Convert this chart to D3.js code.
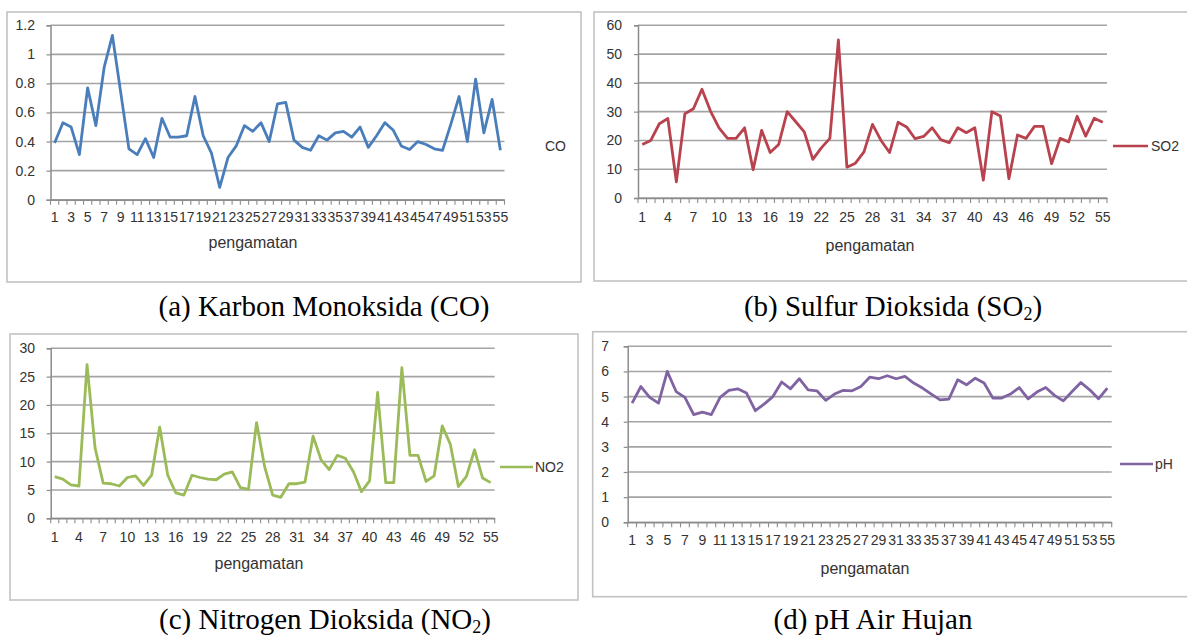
<!DOCTYPE html>
<html>
<head>
<meta charset="utf-8">
<script src="https://cdn.jsdelivr.net/npm/d3@7/dist/d3.min.js"></script>
<style>
  body { margin: 0; background: #fff; }
  svg { display: block; }
  text { font-family: 'Liberation Sans', Arial, sans-serif; fill: #333; }
  .caption { font-family: 'Liberation Serif', 'Times New Roman', serif; fill: #000; font-size: 29px; }
</style>
</head>
<body>
<svg id="chart" width="1187" height="637"></svg>
<script>
// observation number (category axis)
const pengamatan = [1, 2, 3, 4, 5, 6, 7, 8, 9, 10, 11, 12, 13, 14, 15, 16, 17, 18, 19, 20,
  21, 22, 23, 24, 25, 26, 27, 28, 29, 30, 31, 32, 33, 34, 35, 36, 37, 38, 39, 40,
  41, 42, 43, 44, 45, 46, 47, 48, 49, 50, 51, 52, 53, 54, 55]

// series
const co = [0.39, 0.53, 0.50, 0.31, 0.77, 0.51, 0.91, 1.13, 0.74, 0.35,
  0.31, 0.42, 0.29, 0.56, 0.43, 0.43, 0.44, 0.71, 0.44, 0.32,
  0.085, 0.29, 0.37, 0.51, 0.47, 0.53, 0.40, 0.66, 0.67, 0.41,
  0.36, 0.34, 0.44, 0.41, 0.46, 0.47, 0.43, 0.50, 0.36, 0.44,
  0.53, 0.48, 0.37, 0.345, 0.40, 0.38, 0.35, 0.34, 0.52, 0.71,
  0.40, 0.83, 0.46, 0.69, 0.34]
const so2 = [18.6, 20, 25.8, 27.6, 5.6, 29.3, 31, 37.8, 30.2, 24.4,
  20.7, 20.7, 24.4, 9.8, 23.5, 15.8, 18.6, 30, 26.5, 23,
  13.4, 17.4, 20.7, 54.9, 10.7, 12.1, 16, 25.6, 20, 15.8,
  26.3, 24.7, 20.6, 21.4, 24.4, 20.3, 19.2, 24.4, 22.7, 24.4,
  6.2, 30, 28.5, 6.7, 21.9, 20.7, 24.9, 24.9, 11.9, 20.7,
  19.5, 28.4, 21.5, 27.7, 26.3]
const no2 = [7.35, 6.9, 5.9, 5.7, 27.1, 12.4, 6.2, 6.1, 5.7, 7.2,
  7.5, 5.8, 7.6, 16.1, 7.6, 4.5, 4.1, 7.6, 7.2, 6.9,
  6.8, 7.8, 8.2, 5.4, 5.1, 16.9, 9.1, 4.1, 3.7, 6.1,
  6.1, 6.4, 14.5, 10.3, 8.6, 11.1, 10.6, 8.2, 4.7, 6.6,
  22.2, 6.3, 6.3, 26.6, 11.1, 11.1, 6.5, 7.5, 16.3, 13.1,
  5.6, 7.4, 12.1, 7.1, 6.3]
const ph = [4.74, 5.40, 4.97, 4.74, 6.0, 5.2, 4.97, 4.28, 4.38, 4.28,
  4.97, 5.25, 5.31, 5.14, 4.44, 4.70, 5.0, 5.58, 5.31, 5.71,
  5.27, 5.23, 4.85, 5.10, 5.25, 5.23, 5.40, 5.77, 5.71, 5.83,
  5.71, 5.80, 5.54, 5.34, 5.10, 4.87, 4.90, 5.67, 5.47, 5.73,
  5.54, 4.94, 4.94, 5.10, 5.36, 4.91, 5.18, 5.36, 5.05, 4.83,
  5.2, 5.56, 5.27, 4.91, 5.34]

// value axis ticks
const yTicksCO = [0, 0.2, 0.4, 0.6, 0.8, 1, 1.2]
const yTicksSO2 = [0, 10, 20, 30, 40, 50, 60]
const yTicksNO2 = [0, 5, 10, 15, 20, 25, 30]
const yTicksPH = [0, 1, 2, 3, 4, 5, 6, 7]

// Excel shows every 2nd or every 3rd category label
const labelsEvery2 = pengamatan.filter((d, i) => i % 2 === 0)
const labelsEvery3 = pengamatan.filter((d, i) => i % 3 === 0)

const panels = [
  {
    values: co, yTicks: yTicksCO, xLabels: labelsEvery2, color: '#4a7ebb', name: 'CO',
    frame: [7, 12, 581, 282], left: 50.5, right: 504.5, top: 25.3, bottom: 199.7,
    yLabelX: 35, xLabelY: 217, titleX: 253, titleY: 243,
    legend: { x1: null, x2: null, textX: 545, y: 146 },
    caption: { x: 324, y: 316, main: '(a) Karbon Monoksida (CO)' }
  },
  {
    values: so2, yTicks: yTicksSO2, xLabels: labelsEvery3, color: '#b8424d', name: 'SO2',
    frame: [594, 12, 1195, 281], left: 638, right: 1107, top: 25.3, bottom: 198,
    yLabelX: 622, xLabelY: 217, titleX: 870, titleY: 246,
    legend: { x1: 1113, x2: 1148, textX: 1151, y: 146 },
    caption: { x: 893, y: 316, main: '(b) Sulfur Dioksida (SO', sub: '2', end: ')' }
  },
  {
    values: no2, yTicks: yTicksNO2, xLabels: labelsEvery3, color: '#9bbb59', name: 'NO2',
    frame: [10, 334, 578, 600], left: 50.7, right: 494.7, top: 348.3, bottom: 518.3,
    yLabelX: 35, xLabelY: 537, titleX: 259, titleY: 564,
    legend: { x1: 500, x2: 533, textX: 535, y: 467 },
    caption: { x: 325, y: 629, main: '(c) Nitrogen Dioksida (NO', sub: '2', end: ')' }
  },
  {
    values: ph, yTicks: yTicksPH, xLabels: labelsEvery2, color: '#8064a2', name: 'pH',
    frame: [592.7, 331.7, 1195, 596.7], left: 627.7, right: 1111.7, top: 346.3, bottom: 522.3,
    yLabelX: 609, xLabelY: 540, titleX: 865, titleY: 569,
    legend: { x1: 1120, x2: 1153, textX: 1155, y: 464 },
    caption: { x: 873, y: 629, main: '(d) pH Air Hujan' }
  }
]

const fontSize = 14

/** Draw one Excel-like line chart with its frame and caption
  * @param {Selection} svg the root svg
  * @param {Object} p the panel settings
  */
function drawPanel (svg, p) {
  const g = svg.append('g')

  g.append('rect')
    .attr('x', p.frame[0]).attr('y', p.frame[1])
    .attr('width', p.frame[2] - p.frame[0]).attr('height', p.frame[3] - p.frame[1])
    .attr('fill', 'none').attr('stroke', '#c2c2c2').attr('stroke-width', 1.6)

  const x = d3.scaleBand().domain(pengamatan).range([p.left, p.right])
  const y = d3.scaleLinear().domain([0, d3.max(p.yTicks)]).range([p.bottom, p.top])
  const half = x.bandwidth() / 2

  // horizontal gridlines
  g.selectAll('line.grid')
    .data(p.yTicks)
    .enter().append('line').classed('grid', true)
    .attr('x1', p.left).attr('x2', p.right)
    .attr('y1', d => y(d)).attr('y2', d => y(d))
    .attr('stroke', '#a4a4a4').attr('stroke-width', 1.6)

  // value axis
  const yAxis = d3.axisLeft(y)
    .tickValues(p.yTicks)
    .tickSize(4)
    .tickPadding(p.left - p.yLabelX - 4)
    .tickFormat(d => String(+d.toFixed(1)))
  const ya = g.append('g').attr('transform', `translate(${p.left},0)`).call(yAxis)
  ya.select('.domain').attr('stroke', '#8c8c8c').attr('stroke-width', 1.5)
  ya.selectAll('.tick line').attr('stroke', '#8c8c8c').attr('stroke-width', 1.2)
  ya.selectAll('text').attr('font-size', fontSize).attr('fill', '#333')
    .attr('font-family', null)

  // category axis: ticks between categories, labels at centres
  const edges = pengamatan.map(d => x(d)).concat([p.right])
  g.selectAll('line.xtick')
    .data(edges)
    .enter().append('line').classed('xtick', true)
    .attr('x1', d => d).attr('x2', d => d)
    .attr('y1', p.bottom).attr('y2', p.bottom + 5)
    .attr('stroke', '#8c8c8c').attr('stroke-width', 1.1)

  const xAxis = d3.axisBottom(x)
    .tickValues(p.xLabels)
    .tickSize(0)
    .tickPadding(p.xLabelY - p.bottom - 0.36 * fontSize)
  const xa = g.append('g').attr('transform', `translate(0,${p.bottom})`).call(xAxis)
  xa.select('.domain').attr('stroke', '#8c8c8c').attr('stroke-width', 1.5)
  xa.selectAll('text').attr('font-size', fontSize).attr('fill', '#333')
    .attr('font-family', null)

  // the series
  const line = d3.line()
    .x((d, i) => x(pengamatan[i]) + half)
    .y(d => y(d))
  g.append('path')
    .datum(p.values)
    .attr('d', line)
    .attr('fill', 'none')
    .attr('stroke', p.color)
    .attr('stroke-width', 2.8)
    .attr('stroke-linejoin', 'round')

  // axis title
  g.append('text')
    .attr('x', p.titleX).attr('y', p.titleY + 4.5)
    .attr('text-anchor', 'middle')
    .attr('font-size', 16)
    .text('pengamatan')

  // legend
  if (p.legend.x1 !== null) {
    g.append('line')
      .attr('x1', p.legend.x1).attr('x2', p.legend.x2)
      .attr('y1', p.legend.y).attr('y2', p.legend.y)
      .attr('stroke', p.color).attr('stroke-width', 2.6)
  }
  g.append('text')
    .attr('x', p.legend.textX).attr('y', p.legend.y + 5)
    .attr('font-size', fontSize)
    .text(p.name)

  // caption below the chart
  const cap = svg.append('text').classed('caption', true)
    .attr('x', p.caption.x).attr('y', p.caption.y)
    .attr('text-anchor', 'middle')
  cap.append('tspan').text(p.caption.main)
  if (p.caption.sub) {
    cap.append('tspan').attr('dy', 4).attr('font-size', 18).text(p.caption.sub)
    cap.append('tspan').attr('dy', -4).text(p.caption.end)
  }
}

const svg = d3.select('#chart')
panels.forEach(p => drawPanel(svg, p))
</script>
</body>
</html>
